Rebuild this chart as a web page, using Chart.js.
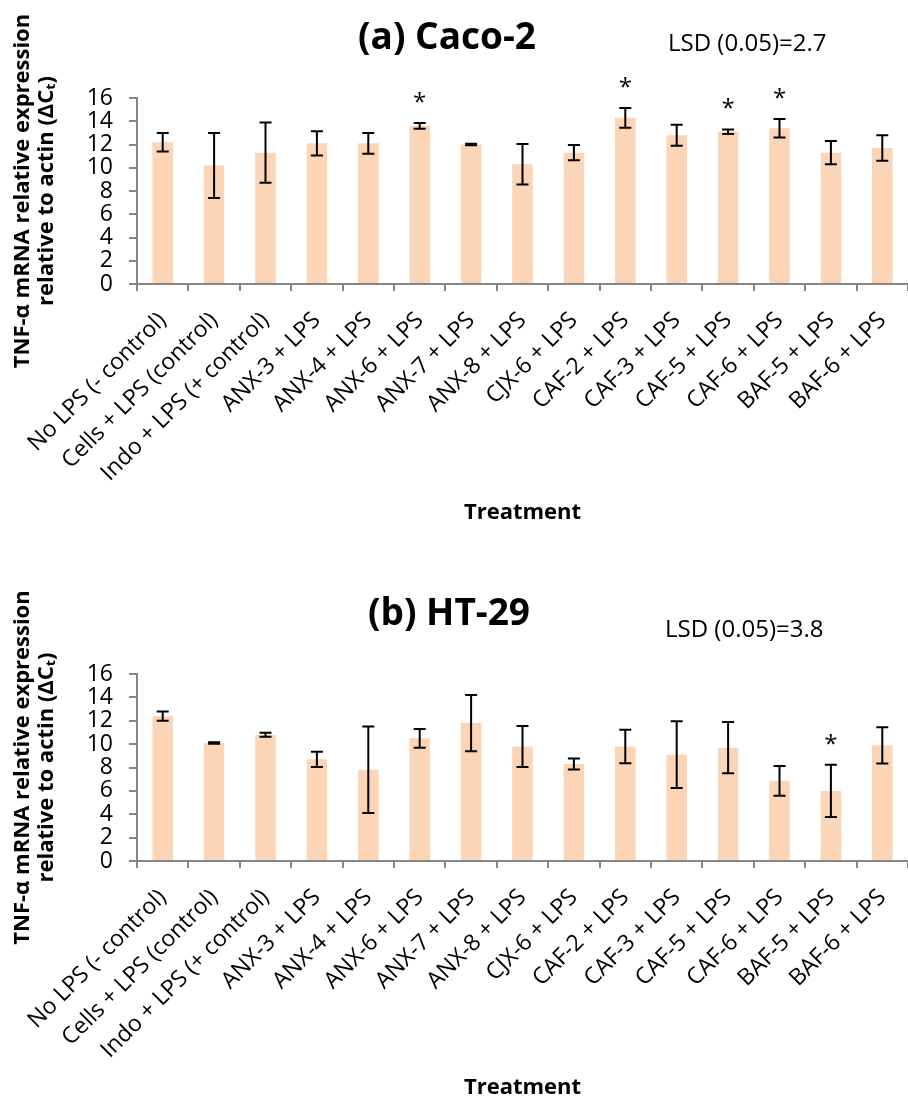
<!DOCTYPE html>
<html>
<head>
<meta charset="utf-8">
<script src="https://cdn.jsdelivr.net/npm/chart.js@4.4.1/dist/chart.umd.min.js"></script>
<style>
  body { margin: 0; background: #fff; }
  canvas { display: block; }
</style>
</head>
<body>
<canvas id="chartA" width="908" height="550"></canvas>
<canvas id="chartB" width="908" height="551"></canvas>
<script>
// treatments on the x axis
const treatments = [
  'No LPS (- control)', 'Cells + LPS (control)', 'Indo + LPS (+ control)',
  'ANX-3 + LPS', 'ANX-4 + LPS', 'ANX-6 + LPS', 'ANX-7 + LPS', 'ANX-8 + LPS',
  'CJX-6 + LPS', 'CAF-2 + LPS', 'CAF-3 + LPS', 'CAF-5 + LPS', 'CAF-6 + LPS',
  'BAF-5 + LPS', 'BAF-6 + LPS'
];

// (a) Caco-2
const cacoMean = [12.2, 10.2, 11.3, 12.1, 12.1, 13.6, 12.0, 10.3, 11.3, 14.3, 12.8, 13.1, 13.4, 11.3, 11.7];
const cacoErr  = [0.8, 2.8, 2.6, 1.05, 0.9, 0.25, 0.06, 1.75, 0.65, 0.85, 0.9, 0.2, 0.8, 1.0, 1.1];
const cacoSig  = [0, 0, 0, 0, 0, 1, 0, 0, 0, 1, 0, 1, 1, 0, 0];

// (b) HT-29
const htMean = [12.4, 10.1, 10.8, 8.7, 7.8, 10.5, 11.8, 9.8, 8.3, 9.8, 9.1, 9.7, 6.85, 6.0, 9.9];
const htErr  = [0.4, 0.06, 0.17, 0.65, 3.7, 0.8, 2.4, 1.75, 0.48, 1.43, 2.85, 2.2, 1.27, 2.23, 1.55];
const htSig  = [0, 0, 0, 0, 0, 0, 0, 0, 0, 0, 0, 0, 0, 1, 0];

const yMin = 0, yMax = 16, yStep = 2;

const FONT = "'Open Sans', sans-serif";
const AXIS_GREY = '#868686';
const BAR_COLOR = '#FBD5B5';

// error bars, significance stars, panel title and LSD note
const extras = {
  id: 'extras',
  afterDatasetsDraw(chart, args, opts) {
    const ctx = chart.ctx;
    const y = chart.scales.y;
    const meta = chart.getDatasetMeta(0);
    const vals = chart.data.datasets[0].data;
    ctx.save();
    ctx.strokeStyle = '#000';
    ctx.lineWidth = 2;
    ctx.fillStyle = '#000';
    ctx.font = `24px ${FONT}`;
    ctx.textAlign = 'center';
    ctx.textBaseline = 'middle';
    opts.errors.forEach((e, i) => {
      const cx = meta.data[i].x;
      const yt = y.getPixelForValue(vals[i] + e);
      const yb = y.getPixelForValue(vals[i] - e);
      ctx.beginPath();
      ctx.moveTo(cx, yt); ctx.lineTo(cx, yb);
      ctx.moveTo(cx - 6, yt); ctx.lineTo(cx + 6, yt);
      ctx.moveTo(cx - 6, yb); ctx.lineTo(cx + 6, yb);
      ctx.stroke();
      if (opts.sig[i]) ctx.fillText('*', cx, yt - 20);
    });
    ctx.restore();
  },
  afterDraw(chart, args, opts) {
    const ctx = chart.ctx;
    ctx.save();
    ctx.fillStyle = '#000';
    ctx.textBaseline = 'middle';
    ctx.textAlign = 'center';
    ctx.font = `bold 37px ${FONT}`;
    ctx.fillText(opts.title, opts.titleX, opts.titleY);
    ctx.textAlign = 'left';
    ctx.font = `24px ${FONT}`;
    ctx.fillText(opts.lsd, opts.lsdX, opts.lsdY);
    ctx.restore();
  }
};

function makeChart(id, mean, err, sig, title, lsd, pos) {
  const ctx = document.getElementById(id).getContext('2d');
  return new Chart(ctx, {
    type: 'bar',
    data: {
      labels: treatments,
      datasets: [{
        data: mean,
        backgroundColor: BAR_COLOR,
        borderWidth: 0,
        barPercentage: 0.4,
        categoryPercentage: 1.0
      }]
    },
    options: {
      responsive: false,
      animation: false,
      layout: { padding: { top: pos.top, right: 0, bottom: pos.bottom, left: 0 } },
      plugins: {
        legend: { display: false },
        tooltip: { enabled: false },
        extras: {
          errors: err, sig: sig, title: title, lsd: lsd,
          titleX: pos.titleX, titleY: pos.titleY, lsdX: pos.lsdX, lsdY: pos.lsdY
        }
      },
      scales: {
        x: {
          grid: { drawOnChartArea: false, color: AXIS_GREY, lineWidth: 2, tickLength: 7, offset: true },
          border: { color: AXIS_GREY, width: 2 },
          ticks: {
            color: '#000', font: { family: FONT, size: 23 },
            maxRotation: 45, minRotation: 45, autoSkip: false, padding: 16
          },
          title: {
            display: true, text: 'Treatment', color: '#000', padding: 0,
            font: { family: FONT, size: 22, weight: 'bold' }
          },
          afterFit: s => { s.height = pos.xHeight; s.paddingLeft = 0; s.paddingRight = 0; }
        },
        y: {
          min: yMin, max: yMax,
          grid: { drawOnChartArea: false, color: AXIS_GREY, lineWidth: 2, tickLength: 8 },
          border: { color: AXIS_GREY, width: 2 },
          ticks: {
            stepSize: yStep, autoSkip: false, color: '#000',
            font: { family: FONT, size: 23, lineHeight: 1 }, padding: 16
          },
          title: {
            display: true, color: '#000', padding: { top: 11, bottom: 0 },
            text: ['TNF-\u03B1 mRNA relative expression', 'relative to actin (\u0394C\u209C)'],
            font: { family: FONT, size: 22, weight: 'bold', lineHeight: 1.08 }
          },
          afterFit: s => { s.width = 137; s.paddingTop = 0; s.paddingBottom = 0; }
        }
      }
    },
    plugins: [extras]
  });
}

makeChart('chartA', cacoMean, cacoErr, cacoSig, '(a) Caco-2', 'LSD (0.05)=2.7',
  { top: 98, bottom: 24, xHeight: 242, titleX: 447, titleY: 38, lsdX: 668, lsdY: 44 });
makeChart('chartB', htMean, htErr, htSig, '(b) HT-29', 'LSD (0.05)=3.8',
  { top: 124, bottom: 0, xHeight: 240, titleX: 449, titleY: 64, lsdX: 665, lsdY: 80 });
</script>
</body>
</html>
